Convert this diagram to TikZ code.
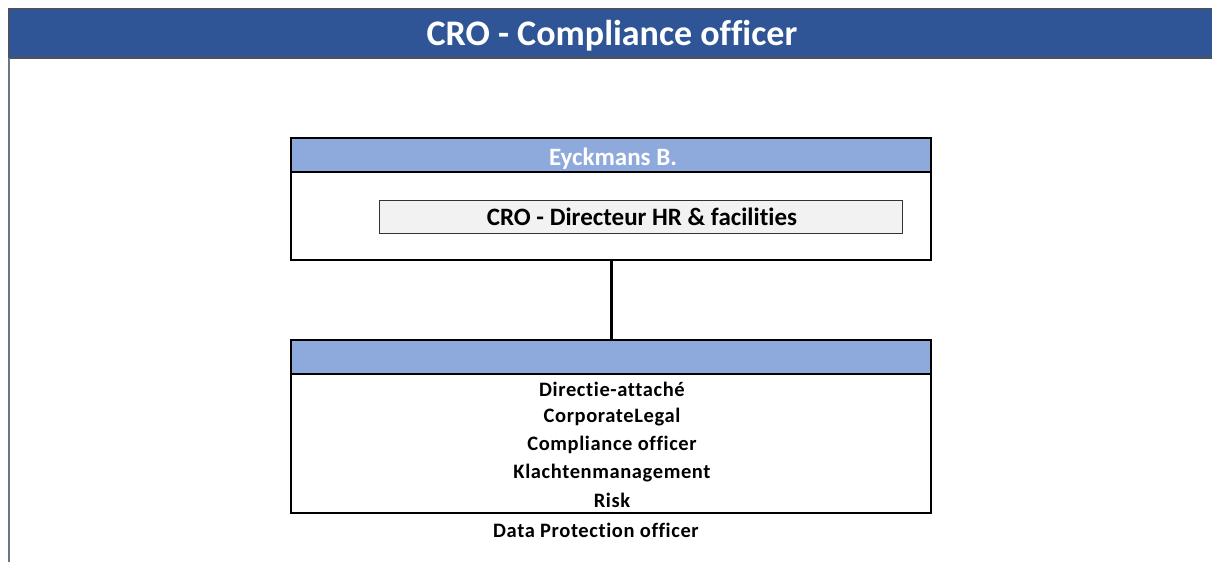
\documentclass[tikz,border=0pt]{standalone}
\usepackage{fontspec}
\setmainfont{Carlito}[Ligatures=NoCommon]
\newfontfamily\itemfont{Carlito}[Ligatures=NoCommon, LetterSpace=3]
\usetikzlibrary{positioning}
\definecolor{hdrblue}{HTML}{2F5597}
\definecolor{bandblue}{HTML}{8EA9DB}
\definecolor{edgegray}{HTML}{44546A}
\definecolor{rolegray}{HTML}{F2F2F2}
\tikzset{
  unitframe/.style={draw=black, line width=2pt, minimum width=640pt, inner sep=0pt},
  bandbox/.style={unitframe, fill=bandblue, minimum height=34pt},
  rolebox/.style={draw=black!80, line width=0.8pt, fill=rolegray, minimum width=523pt, minimum height=33pt, inner sep=0pt},
  itemtext/.style={font=\itemfont\bfseries\fontsize{20.5}{24}\selectfont},
}
\begin{document}
\begin{tikzpicture}[x=1pt, y=-1pt]
\useasboundingbox (0,0) rectangle (1212,562);
% page header
\fill[edgegray] (8,8) rectangle (1212,59);
\fill[hdrblue] (10,10) rectangle (1212,56);
\node[text=white, font=\bfseries\fontsize{36}{40}\selectfont] (title) at (612,36) {CRO - Compliance officer};
\draw[edgegray!80, line width=2pt] (9,58) -- (9,562);
% manager
\node[unitframe, minimum height=122pt] (topbox) at (611,199) {};
\node[bandbox, anchor=north] (topband) at (topbox.north) {};
\node[text=white, font=\bfseries\fontsize{25}{28}\selectfont] (name) at (613,159) {Eyckmans B.};
\node[rolebox, font=\bfseries\fontsize{25}{28}\selectfont] (toprole) at (640.5,216.5) {\hspace*{3pt}CRO - Directeur HR \& facilities};
% team
\node[unitframe, minimum height=173pt] (unitbox) at (611,426.5) {};
\node[bandbox, anchor=north] (unitband) at (unitbox.north) {};
\foreach \item [count=\i from 0] in {Directie-attaché, CorporateLegal, Compliance officer, Klachtenmanagement, Risk}
  \node[itemtext] (item\i) at (612,389.5+27.8*\i) {\item};
\node[itemtext, below=8pt of item4.south, anchor=north, xshift=-16pt] (dpo) {Data Protection officer};
\draw[line width=3pt] (topbox.south) -- (unitband.north);
\end{tikzpicture}
\end{document}
